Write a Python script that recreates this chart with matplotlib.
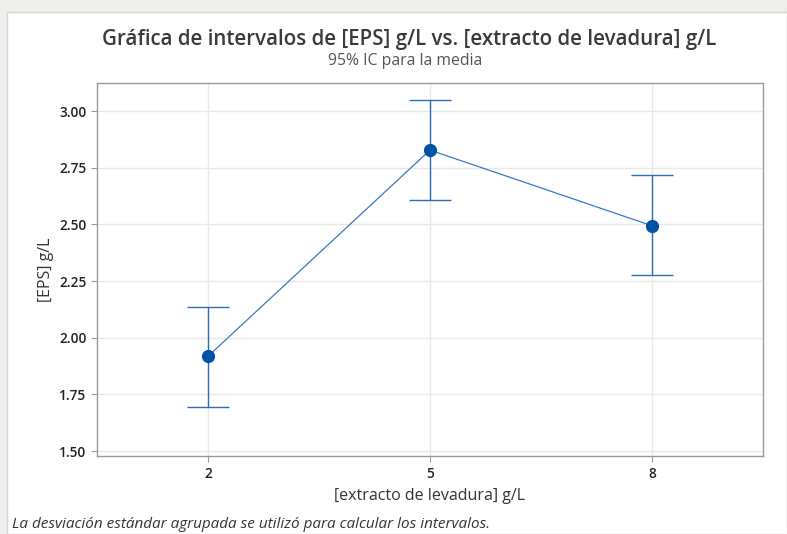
import matplotlib
matplotlib.use("Agg")
import matplotlib.pyplot as plt
from matplotlib.patches import Rectangle

# Data: mean [EPS] with 95% CI bounds for each yeast-extract level
levels = [2, 5, 8]
means = [1.918, 2.828, 2.494]
ci_low = [1.694, 2.607, 2.276]
ci_high = [2.136, 3.049, 2.717]
yticks = [1.50, 1.75, 2.00, 2.25, 2.50, 2.75, 3.00]

W, H = 787, 534
fig = plt.figure(figsize=(W / 100, H / 100), dpi=100)
fig.patch.set_facecolor("#eef0ec")

# white panel with thin border
panel = Rectangle((7 / W, 0), 1 - 7 / W, 1 - 12 / H, transform=fig.transFigure,
                  facecolor="white", edgecolor="#d4d4d4", linewidth=1.0, zorder=-5)
fig.patches.append(panel)

ax = fig.add_axes([97 / W, 1 - 456 / H, (763 - 97) / W, (456 - 83) / H])
ax.set_zorder(2)
ax.set_facecolor("white")

blue_line = "#3a78c0"
blue_mark = "#0052a3"

ax.plot(levels, means, color=blue_line, lw=0.9, zorder=3)
yerr = [[m - lo for m, lo in zip(means, ci_low)], [hi - m for m, hi in zip(means, ci_high)]]
ax.errorbar(levels, means, yerr=yerr, fmt="none", ecolor="#2f6db5", elinewidth=1.0,
            capsize=21 * 0.72, capthick=1.0, zorder=3)
ax.plot(levels, means, "o", color=blue_mark, markersize=8.5, zorder=4)

ax.set_xlim(0.5, 9.5)
ax.set_ylim(1.478, 3.124)
ax.set_xticks(levels)
ax.set_yticks(yticks)
ax.set_yticklabels([f"{v:.2f}" for v in yticks])
ax.grid(True, color="#e8e8e8", lw=1.0)
ax.set_axisbelow(True)

for s in ax.spines.values():
    s.set_color("#9a9a9a")
    s.set_linewidth(1.0)

font = ["Open Sans", "DejaVu Sans"]
ax.tick_params(axis="both", colors="#9a9a9a", length=4, width=0.8, labelcolor="#222222",
               labelsize=9.8)
for lab in ax.get_xticklabels() + ax.get_yticklabels():
    lab.set_family(font)
    lab.set_fontweight("semibold")
ax.tick_params(axis="x", pad=4)

ax.set_xlabel("[extracto de levadura] g/L", family=font, fontsize=11.5, color="#333333", labelpad=5)
ax.set_ylabel("[EPS] g/L", family=font, fontsize=11.5, color="#333333", labelpad=4)

fig.text(409 / W, 1 - 40 / H, "Gráfica de intervalos de [EPS] g/L vs. [extracto de levadura] g/L",
         ha="center", va="center", family=font, fontsize=14.8, fontweight="semibold", color="#3a3a3a")
fig.text(405 / W, 1 - 61 / H, "95% IC para la media", ha="center", va="center",
         family=font, fontsize=11.3, color="#555555")
fig.text(12 / W, 1 - 524 / H, "La desviación estándar agrupada se utilizó para calcular los intervalos.",
         ha="left", va="center", family=font, fontsize=11, style="italic", color="#333333")

fig.savefig("out.png", dpi=100)
